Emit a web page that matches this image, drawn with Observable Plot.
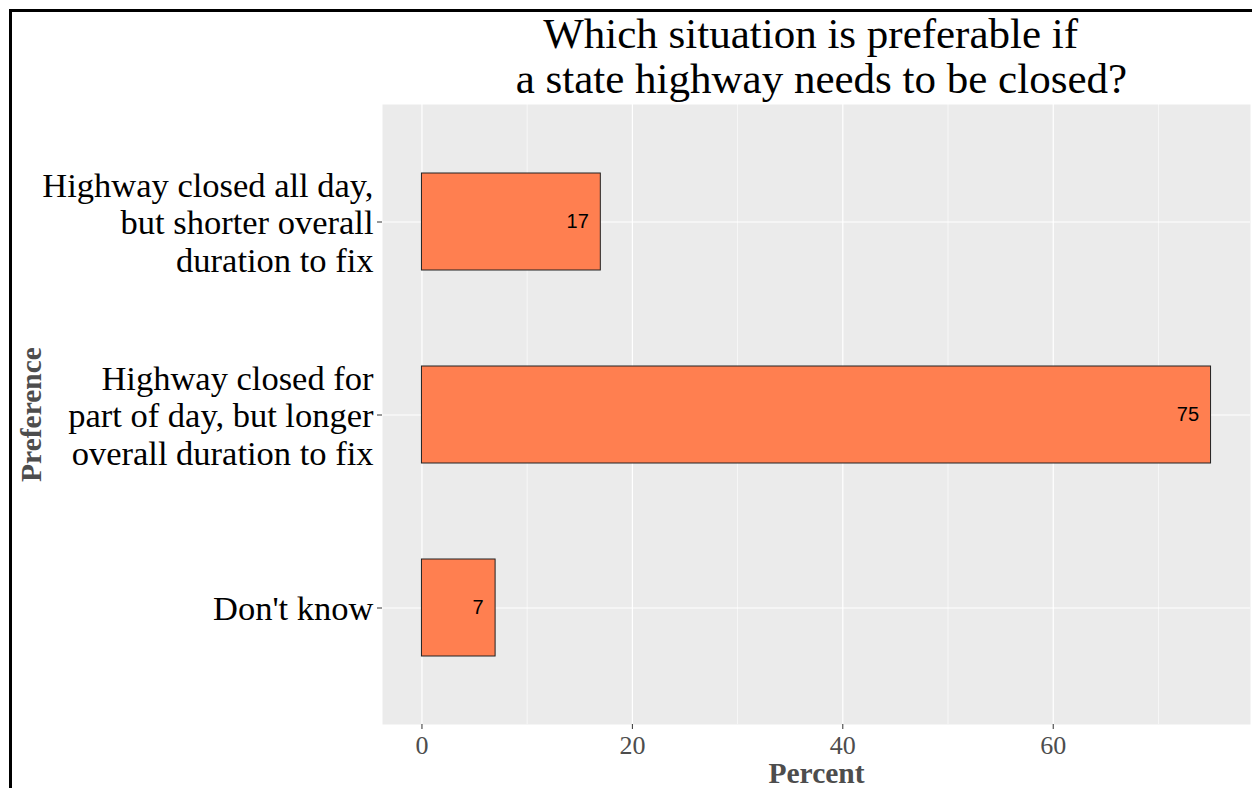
<!DOCTYPE html>
<html>
<head>
<meta charset="utf-8">
<script src="https://cdn.jsdelivr.net/npm/d3@7"></script>
<script src="https://cdn.jsdelivr.net/npm/@observablehq/plot@0.6"></script>
<style>
  html, body { margin: 0; padding: 0; background: #fff; }
  #wrap { position: relative; width: 1252px; height: 788px; overflow: hidden; background: #fff; }
  #border { position: absolute; left: 9px; top: 9px; width: 1300px; height: 900px;
            border-left: 3px solid #000; border-top: 3px solid #000; box-sizing: border-box; pointer-events: none; z-index: 2; }
  #title { position: absolute; left: 382px; width: 868px; top: 11px; text-align: center;
           font-family: "Liberation Serif", serif; font-size: 43px; line-height: 45px; color: #000; white-space: pre; z-index: 1; }
  #chart { position: absolute; left: 0; top: 0; }
</style>
</head>
<body>
<div id="wrap">
  <div id="chart"></div>
  <div id="title"></div>
  <div id="border"></div>
</div>
<script>
const titleLines = ["Which situation is preferable if ", " a state highway needs to be closed?"];
const categories = [
  "Highway closed all day,\nbut shorter overall\nduration to fix",
  "Highway closed for\npart of day, but longer\noverall duration to fix",
  "Don't know"
];
const values = [17, 75, 7];
const xTicks = [0, 20, 40, 60];
const xMinor = [10, 30, 50, 70];
const xLabel = "Percent";
const yLabel = "Preference";

const data = categories.map((c, i) => ({cat: c, value: values[i]}));

document.getElementById("title").innerHTML =
  titleLines.map(t => `<div>${t}</div>`).join("");

const chart = Plot.plot({
  width: 1252,
  height: 788,
  marginTop: 104,
  marginBottom: 64,
  marginLeft: 382,
  marginRight: 2,
  style: {fontFamily: "Liberation Serif", background: "transparent", overflow: "visible"},
  x: {domain: [-3.75, 78.75]},
  y: {domain: categories, paddingInner: 0.5, paddingOuter: 0.35},
  marks: [
    Plot.frame({fill: "#EBEBEB", stroke: null}),
    Plot.ruleX(xMinor, {stroke: "white", strokeWidth: 0.6}),
    Plot.ruleX(xTicks, {stroke: "white", strokeWidth: 1.2}),
    Plot.ruleY(categories, {y: d => d, stroke: "white", strokeWidth: 1.2}),
    Plot.barX(data, {x: "value", y: "cat", fill: "#FF7F50", stroke: "#222", strokeWidth: 1}),
    Plot.text(data, {x: "value", y: "cat", text: d => String(d.value), textAnchor: "end", dx: -12,
      fontSize: 20, fontFamily: "Liberation Sans", fill: "black"}),
    Plot.axisX({ticks: xTicks, tickSize: 5, tickFormat: () => "", color: "#333", label: null}),
    Plot.axisX({ticks: xTicks, tickSize: 0, tickPadding: 11, fontSize: 26, color: "#4D4D4D", label: null}),
    Plot.axisY({tickSize: 5, tickFormat: () => "", color: "#333", label: null}),
    Plot.axisY({tickSize: 0, tickPadding: 9, fontSize: 34.5, lineHeight: 1.087, color: "black", label: null}),
    Plot.text([xLabel], {text: d => d, frameAnchor: "bottom", textAnchor: "middle", lineAnchor: "top", dy: 38,
      fontSize: 29.5, fontWeight: "bold", fill: "#4D4D4D"}),
    Plot.text([yLabel], {text: d => d, frameAnchor: "left", textAnchor: "middle", rotate: -90, dx: -351,
      fontSize: 29.5, fontWeight: "bold", fill: "#4D4D4D"})
  ]
});
document.getElementById("chart").appendChild(chart);
</script>
</body>
</html>
